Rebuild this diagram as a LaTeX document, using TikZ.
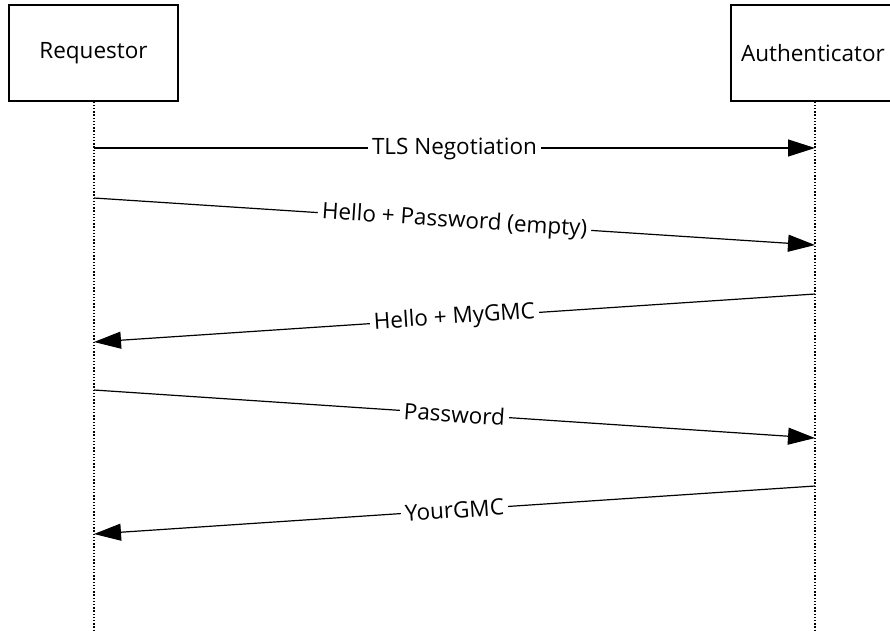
\documentclass[tikz,border=0pt]{standalone}
\usepackage{fontspec}
\setmainfont{Open Sans}
\usetikzlibrary{arrows.meta}
\begin{document}
\begin{tikzpicture}[x=1pt,y=-1pt,
  actor/.style={draw,line width=1.3pt,minimum width=169pt,minimum height=96pt,font=\fontsize{22.5}{26}\selectfont},
  lifeline/.style={line width=1.4pt,dash pattern=on 1.4pt off 1.8pt},
  msg/.style={line width=1.2pt,-{Triangle[length=27pt,width=17pt]}},
  lbl/.style={fill=white,sloped,inner sep=4pt,font=\fontsize{22.5}{26}\selectfont}]
\useasboundingbox (0,0) rectangle (890,630);
\clip (0,0) rectangle (890,630);
\node[actor] (req) at (93.5,53) {Requestor};
\node[actor,text width=149pt,align=left] (auth) at (815.5,53) {Authenticator};
\coordinate (rb) at (94,630);
\coordinate (ab) at (815,630);
\draw[lifeline] (req.south) ++(0.5,0) -- (rb);
\draw[lifeline] (auth.south) ++(-0.5,0) -- (ab);
\coordinate (r1) at (94,148); \coordinate (a1) at (815,148);
\coordinate (r2) at (94,198); \coordinate (a2) at (815,245);
\coordinate (a3) at (815,294); \coordinate (r3) at (94,342);
\coordinate (r4) at (94,390); \coordinate (a4) at (815,438);
\coordinate (a5) at (815,486); \coordinate (r5) at (94,534);
\draw[msg] (r1) -- node[lbl,yshift=-1pt] {TLS Negotiation} (a1);
\draw[msg] (r2) -- node[lbl] {Hello + Password (empty)} (a2);
\draw[msg] (a3) -- node[lbl] {Hello + MyGMC} (r3);
\draw[msg] (r4) -- node[lbl] {Password} (a4);
\draw[msg] (a5) -- node[lbl] {YourGMC} (r5);
\end{tikzpicture}
\end{document}
